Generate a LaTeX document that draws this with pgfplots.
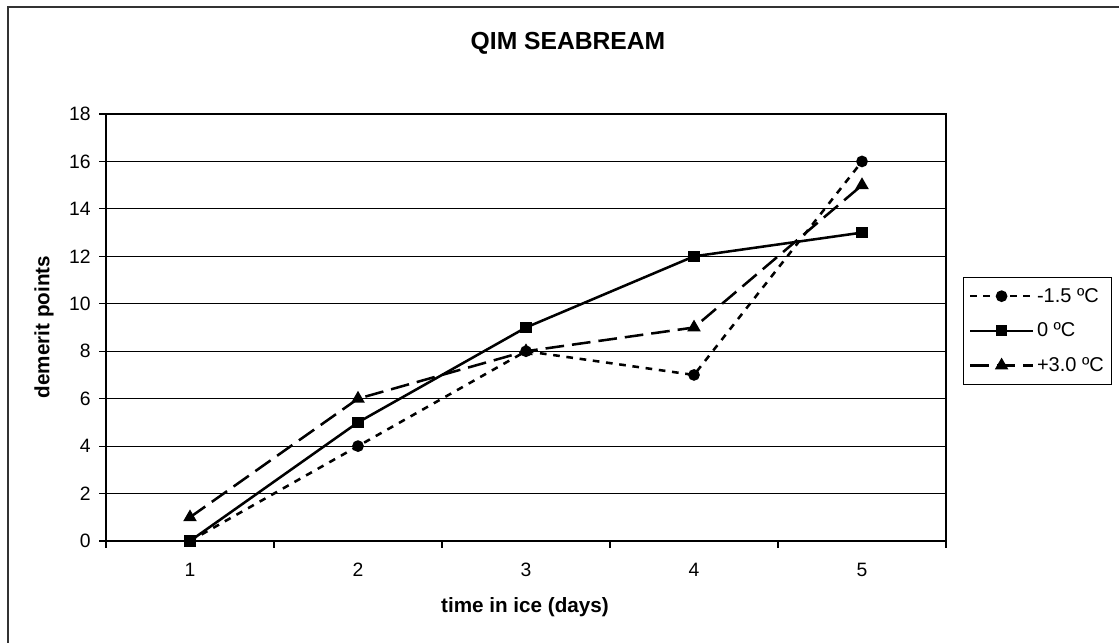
\documentclass[border=0pt]{standalone}
\usepackage{pgfplots}
\pgfplotsset{compat=1.18}
\usepackage{fontspec}
\setmainfont{Liberation Sans}
\newcommand\PX[2]{({((#1)-106)*0.75pt},{(541-(#2))*0.75pt})}
\begin{document}
\begin{tikzpicture}
\useasboundingbox \PX{0}{0} rectangle \PX{1119}{642};
\draw[line width=1.5pt,draw=black!80] \PX{8}{645} -- \PX{8}{7} -- \PX{1125}{7};
\begin{axis}[
  at={(0pt,0pt)}, anchor=south west,
  width=630pt, height=320.25pt, scale only axis,
  xmin=0.5, xmax=5.5, ymin=0, ymax=18,
  xtick={0.5,1.5,...,5.5}, xticklabels={,,,,,},
  extra x ticks={1,2,3,4,5}, extra x tick labels={1,2,3,4,5},
  extra x tick style={major tick length=0pt, grid=none},
  ytick={0,2,...,18},
  xtick pos=bottom, ytick pos=left,
  tick align=outside, major tick length=5pt,
  ymajorgrids, grid style={black, line width=0.6pt},
  axis line style={black, line width=0.9pt},
  tick style={black, line width=0.8pt},
  /pgf/number format/assume math mode=true,
  tick label style={font=\fontsize{14.5}{16}\selectfont},
  yticklabel style={xshift=-3pt},
  xticklabel style={yshift=-13pt},
  legend style={at={(1.0202,0.6183)}, anchor=north west,
    draw=black, line width=0.8pt, font=\fontsize{15}{17}\selectfont,
    inner xsep=4pt, inner ysep=6pt, row sep=10pt, cells={anchor=west}},
  legend image code/.code={
    \draw[#1, mark=none] (0cm,0cm) -- (1.66cm,0cm);
    \draw[#1, only marks] plot coordinates {(0.83cm,0cm)};
  },
]
\addplot[black, line width=1.9pt, dash pattern=on 5pt off 5pt, mark=*, mark size=3.4pt, mark options={solid}]
  coordinates {(1,0) (2,4) (3,8) (4,7) (5,16)};
\addlegendentry{-1.5 ºC}
\addplot[black, line width=1.9pt, mark=square*, mark size=3.3pt, mark options={solid}]
  coordinates {(1,0) (2,5) (3,9) (4,12) (5,13)};
\addlegendentry{0 ºC}
\addplot[black, line width=1.9pt, dash pattern=on 14pt off 6pt, mark=triangle*, mark size=4pt, mark options={solid}]
  coordinates {(1,1) (2,6) (3,8) (4,9) (5,15)};
\addlegendentry{+3.0 ºC}
\end{axis}
\node[font=\fontsize{18.5}{20}\selectfont\bfseries] at \PX{568}{43} {QIM SEABREAM};
\node[font=\fontsize{15.5}{18}\selectfont\bfseries] at \PX{525}{607} {time in ice (days)};
\node[font=\fontsize{15.5}{18}\selectfont\bfseries, rotate=90] at \PX{44}{327} {demerit points};
\end{tikzpicture}
\end{document}
